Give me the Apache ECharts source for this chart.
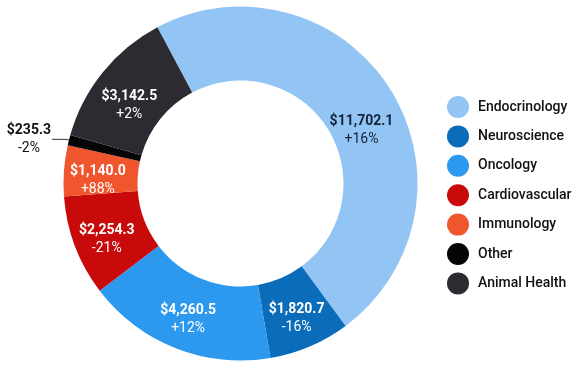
<!DOCTYPE html>
<html>
<head>
<meta charset="utf-8">
<script src="https://cdn.jsdelivr.net/npm/echarts@6/dist/echarts.min.js"></script>
<style>
html,body{margin:0;padding:0;background:#fff;}
#chart{width:578px;height:374px;}
</style>
</head>
<body>
<div id="chart"></div>
<script>
const categories = ['Endocrinology','Neuroscience','Oncology','Cardiovascular','Immunology','Other','Animal Health'];
const values = [11702.1, 1820.7, 4260.5, 2254.3, 1140.0, 235.3, 3142.5];
const changes = ['+16%','-16%','+12%','-21%','+88%','-2%','+2%'];
const colors = ['#92C5F4','#0B6CBA','#2C98EE','#C90A0A','#F0562E','#050505','#2B2B31'];
const labelShiftY = [23, 3, 3, 5, 7, 0, 12];

function fmt(v){
  return '$' + v.toLocaleString('en-US',{minimumFractionDigits:1, maximumFractionDigits:1});
}

const FONT = 'Roboto';

const data = categories.map((name, i) => {
  const item = { name: name, value: values[i], itemStyle: { color: colors[i] } };
  if (name === 'Endocrinology') {
    item.label = { rich: { v: { color: '#15223A' }, p: { color: '#15223A' } } };
  }
  if (name === 'Other') {
    item.label = {
      position: 'outside',
      distanceToLabelLine: 1,
      rich: {
        v: { color: '#111', align: 'center' },
        p: { color: '#111', align: 'center' }
      }
    };
    item.labelLine = { show: true, length: 3, length2: 14, lineStyle: { color: '#333', width: 1 } };
  }
  return item;
});

const chart = echarts.init(document.getElementById('chart'));
chart.setOption({
  backgroundColor: '#fff',
  animation: false,
  legend: {
    orient: 'vertical',
    left: 442,
    top: 91,
    icon: 'circle',
    itemWidth: 22,
    itemHeight: 22,
    itemGap: 7.4,
    data: categories,
    textStyle: { fontFamily: FONT, fontSize: 14, fontWeight: 500, color: '#111', padding: [0,0,0,4] }
  },
  series: [{
    type: 'pie',
    center: [240.5, 183.5],
    radius: [103, 177],
    startAngle: 118,
    clockwise: true,
    avoidLabelOverlap: false,
    silent: true,
    label: {
      show: true,
      position: 'inside',
      fontFamily: FONT,
      formatter: function(p){
        return '{v|' + fmt(p.value) + '}\n{p|' + changes[p.dataIndex] + '}';
      },
      rich: {
        v: { fontFamily: FONT, fontSize: 14, fontWeight: 'bold', color: '#fff', lineHeight: 18, align: 'center' },
        p: { fontFamily: FONT, fontSize: 14, fontWeight: 'normal', color: '#fff', lineHeight: 18, align: 'center' }
      }
    },
    labelLine: { show: false },
    labelLayout: function(params){
      return { dy: labelShiftY[params.dataIndex] || 0 };
    },
    data: data
  }]
});
</script>
</body>
</html>
